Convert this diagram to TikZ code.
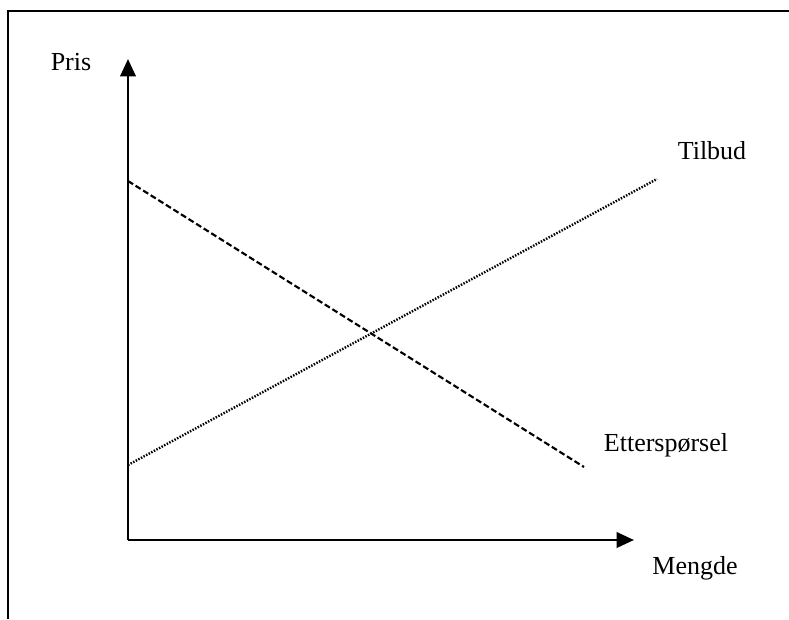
\documentclass[tikz,border=0pt]{standalone}
\usepackage{fontspec}
\setmainfont{Liberation Serif}
\usepackage{tikz}
\usetikzlibrary{arrows.meta,positioning}

\begin{document}
\begin{tikzpicture}[x=0.75pt,y=-0.75pt,
  axis/.style={line width=2pt,-{Triangle[length=13pt,width=11.5pt]}},
  lbl/.style={font=\fontsize{19.5}{22}\selectfont},
  demandline/.style={line width=1.6pt,dash pattern=on 4.5pt off 2.2pt},
  supplyline/.style={line width=1.8pt,dash pattern=on 1.1pt off 1.1pt}]
\useasboundingbox (0,0) rectangle (789,619);

% frame
\draw[line width=1.6pt] (8,619) -- (8,11) -- (789,11);

\coordinate (O) at (128,540);
\coordinate (ytop) at (128,59);
\coordinate (xend) at (634,540);

\draw[axis] (O) -- (ytop);
\draw[axis] (O) -- (xend);

\node[lbl] (pris) at (71,62) {Pris};
\node[lbl] (mengde) at (695,568) {Mengde};
\node[lbl] (tilbud) at (712,151) {Tilbud};
\node[lbl] (ettersp) at (666,445) {Etterspørsel};

% demand and supply
\coordinate (d1) at (128,181);
\coordinate (d2) at (584,467);
\coordinate (s1) at (128,465);
\coordinate (s2) at (657,179);

\draw[demandline] (d1) -- (d2);
\draw[supplyline] (s1) -- (s2);
\end{tikzpicture}
\end{document}
